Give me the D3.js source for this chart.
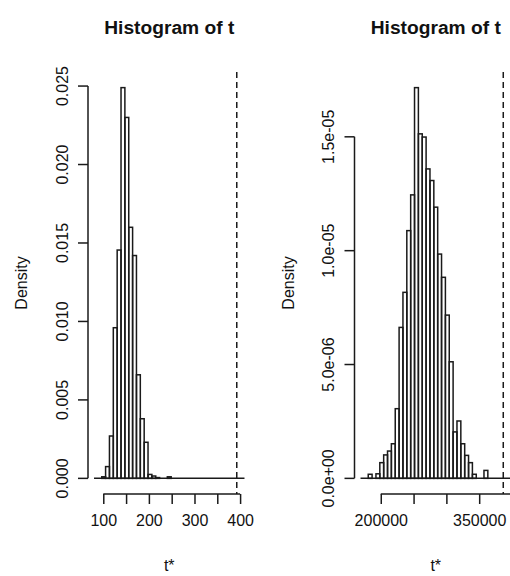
<!DOCTYPE html>
<html>
<head>
<meta charset="utf-8">
<script src="https://cdn.jsdelivr.net/npm/d3@7"></script>
<style>
  html, body { margin: 0; padding: 0; background: #ffffff; }
  svg { display: block; }
  text { font-family: "Liberation Sans", Arial, Helvetica, sans-serif; fill: #111; }
</style>
</head>
<body>
<svg id="chart" width="510" height="576"></svg>
<script>
// ---------------- data ----------------
const leftTitle = "Histogram of t";
const leftBinStart = 79.68;
const leftBinWidth = 8.46;
const leftDensity = [0, 0, 0.0001, 0.00075, 0.0027, 0.0096, 0.01455, 0.0249, 0.0230, 0.0160,
  0.0142, 0.0066, 0.0038, 0.0023, 0.00025, 0.00015, 0.00005, 0, 0, 0.0001,
  0, 0, 0, 0, 0, 0, 0, 0, 0, 0,
  0, 0, 0, 0, 0, 0, 0, 0, 0];
const leftT0 = 392.7;
const leftXTicks = [100, 150, 200, 250, 300, 350, 400];
const leftXTickLabels = ["100", "", "200", "", "300", "", "400"];
const leftYTicks = [0, 0.005, 0.010, 0.015, 0.020, 0.025];
const leftYTickLabels = ["0.000", "0.005", "0.010", "0.015", "0.020", "0.025"];

const rightTitle = "Histogram of t";
const rightBinStart = 169140;
const rightBinWidth = 5880;
const rightDensity = [0, 0, 0.18e-6, 0, 0.2e-6, 0.69e-6, 1.03e-6, 1.2e-6, 1.52e-6, 3.06e-6,
  6.63e-6, 8.17e-6, 10.88e-6, 12.45e-6, 17.16e-6, 15.13e-6, 14.99e-6, 13.59e-6, 13.08e-6, 11.91e-6,
  9.85e-6, 8.83e-6, 7.17e-6, 5.12e-6, 2.04e-6, 2.52e-6, 1.52e-6, 1.01e-6, 0.69e-6, 0.18e-6,
  0, 0, 0.35e-6, 0, 0, 0, 0, 0, 0];
const rightT0 = 386700;
const rightXTicks = [200000, 250000, 300000, 350000, 400000];
const rightXTickLabels = ["200000", "", "", "350000", ""];
const rightYTicks = [0, 5e-6, 1e-5, 1.5e-5];
const rightYTickLabels = ["0.0e+00", "5.0e-06", "1.0e-05", "1.5e-05"];

const xLabel = "t*";
const yLabel = "Density";

// ---------------- layout ----------------
const plotTop = 72, plotBottom = 494, plotW = 162.5;
const fontSize = 16, titleSize = 19.2;
const ink = "#1a1a1a";

const svg = d3.select("#chart");

function drawPanel(x0, title, binStart, binWidth, density, t0, xTicks, xTickLabels, yTicks, yTickLabels) {
  const bins = density.map((d, i) => ({x0: binStart + i * binWidth, x1: binStart + (i + 1) * binWidth, d}));
  const bMin = bins[0].x0, bMax = bins[bins.length - 1].x1;
  const span = bMax - bMin;
  const x = d3.scaleLinear().domain([bMin - 0.04 * span, bMax + 0.04 * span]).range([x0, x0 + plotW]);
  const ymax = d3.max(density);
  const y = d3.scaleLinear().domain([-0.04 * ymax, 1.04 * ymax]).range([plotBottom, plotTop]);

  const g = svg.append("g");

  // baseline made by the zero-height bins
  g.append("line")
    .attr("x1", x(bMin)).attr("x2", x(bMax))
    .attr("y1", y(0)).attr("y2", y(0))
    .attr("stroke", ink).attr("stroke-width", 1.5);

  // bars
  g.selectAll("rect.bar").data(bins.filter(b => b.d > 0)).enter().append("rect")
    .attr("class", "bar")
    .attr("x", b => x(b.x0))
    .attr("width", b => x(b.x1) - x(b.x0))
    .attr("y", b => y(b.d))
    .attr("height", b => y(0) - y(b.d))
    .attr("fill", "none")
    .attr("stroke", ink)
    .attr("stroke-width", 1.5);

  // dashed t0 line
  g.append("line")
    .attr("x1", x(t0)).attr("x2", x(t0))
    .attr("y1", plotTop).attr("y2", plotBottom)
    .attr("stroke", ink).attr("stroke-width", 1.5)
    .attr("stroke-dasharray", "6,4");

  // x axis
  const xAxis = d3.axisBottom(x).tickValues(xTicks)
    .tickFormat((d, i) => xTickLabels[i]).tickSize(10).tickSizeOuter(0).tickPadding(11);
  const gx = g.append("g").attr("transform", `translate(0,${plotBottom})`).call(xAxis);
  gx.select(".domain").attr("d", `M${x(xTicks[0])},0H${x(xTicks[xTicks.length - 1])}`);
  gx.selectAll("line, path").attr("stroke", ink).attr("stroke-width", 1.5);
  gx.selectAll("text").attr("font-size", fontSize).attr("fill", "#111")
    .attr("font-family", "Liberation Sans, Arial, sans-serif");

  // y axis
  const yAxis = d3.axisLeft(y).tickValues(yTicks)
    .tickFormat((d, i) => yTickLabels[i]).tickSize(10).tickSizeOuter(0).tickPadding(0);
  const gy = g.append("g").attr("transform", `translate(${x0},0)`).call(yAxis);
  gy.select(".domain").attr("d", `M0,${y(yTicks[0])}V${y(yTicks[yTicks.length - 1])}`);
  gy.selectAll("line, path").attr("stroke", ink).attr("stroke-width", 1.5);
  gy.selectAll(".tick").attr("transform", null);
  gy.selectAll(".tick line").attr("transform", d => `translate(0,${y(d)})`);
  gy.selectAll("text")
    .attr("font-size", fontSize).attr("fill", "#111")
    .attr("font-family", "Liberation Sans, Arial, sans-serif")
    .attr("x", null).attr("dy", null).attr("y", 0)
    .attr("text-anchor", "middle")
    .attr("transform", d => `translate(${-20.5},${y(d)}) rotate(-90)`);

  // titles
  g.append("text").attr("x", x0 + plotW / 2).attr("y", 34)
    .attr("text-anchor", "middle").attr("font-size", titleSize).attr("font-weight", "bold")
    .text(title);
  g.append("text").attr("x", x0 + plotW / 2).attr("y", 571)
    .attr("text-anchor", "middle").attr("font-size", fontSize)
    .text(xLabel);
  g.append("text")
    .attr("transform", `translate(${x0 - 61},${(plotTop + plotBottom) / 2}) rotate(-90)`)
    .attr("text-anchor", "middle").attr("font-size", fontSize)
    .text(yLabel);
}

drawPanel(88, leftTitle, leftBinStart, leftBinWidth, leftDensity, leftT0,
  leftXTicks, leftXTickLabels, leftYTicks, leftYTickLabels);
drawPanel(354.5, rightTitle, rightBinStart, rightBinWidth, rightDensity, rightT0,
  rightXTicks, rightXTickLabels, rightYTicks, rightYTickLabels);
</script>
</body>
</html>
